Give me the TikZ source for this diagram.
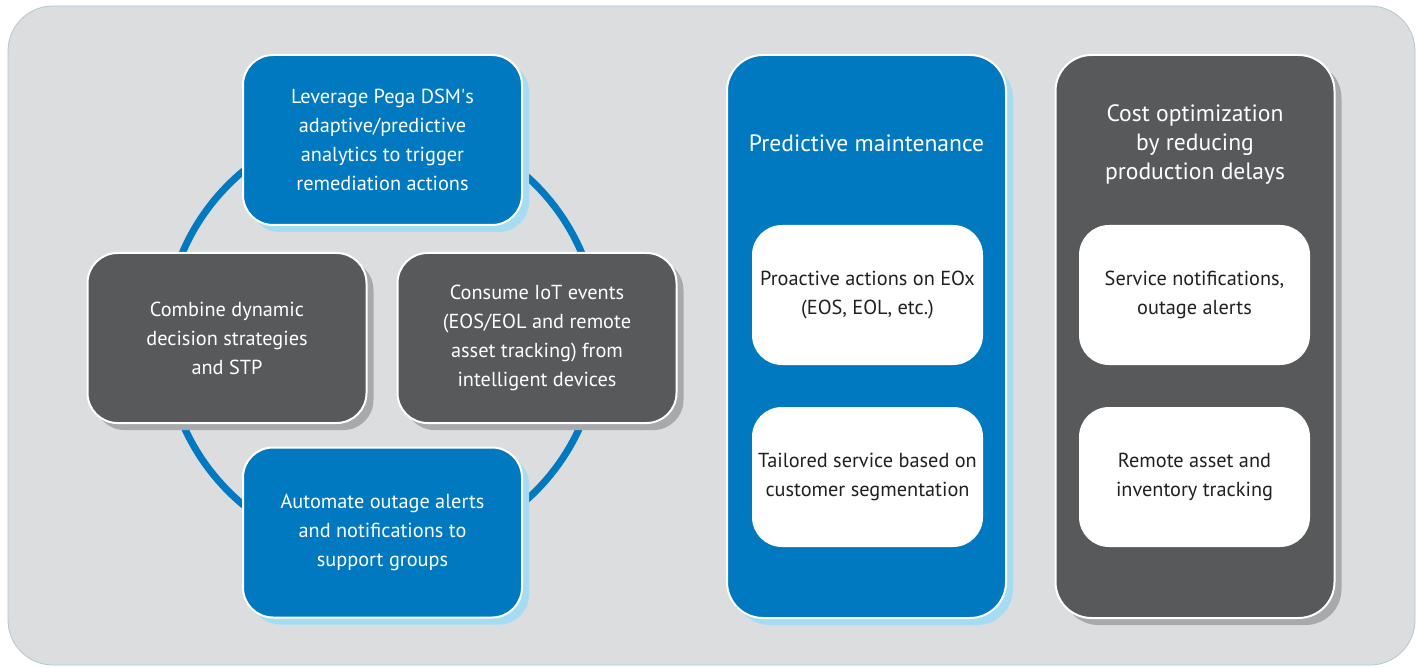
\documentclass[tikz,border=0pt]{standalone}
\usepackage{fontspec}
\setmainfont{PT Sans}
\usetikzlibrary{shadows}
\definecolor{cblue}{HTML}{0079C1}
\definecolor{cgrey}{HTML}{58595B}
\definecolor{cbg}{HTML}{DCDDDE}
\definecolor{cbgline}{HTML}{AFC8D6}
\definecolor{cblueshadow}{HTML}{A6DCF2}
\definecolor{cgreyshadow}{HTML}{A7A9AC}
\definecolor{ctext}{HTML}{231F20}
\tikzset{
  x=1pt, y=-1pt,
  txt/.style={font=\fontsize{20.3}{29}\selectfont, align=center, inner sep=0pt},
  cardbase/.style={draw=white, line width=2pt, rounded corners=30pt, txt, text=white},
  bluecard/.style={cardbase, fill=cblue,
    drop shadow={shadow xshift=7pt, shadow yshift=-7pt, fill=cblueshadow, opacity=1}},
  greycard/.style={cardbase, fill=cgrey,
    drop shadow={shadow xshift=7pt, shadow yshift=-7pt, fill=cgreyshadow, opacity=1}},
  smallcard/.style={minimum width=279pt, minimum height=170pt},
  colcard/.style={minimum width=279pt, minimum height=563pt, rounded corners=36pt},
  whitecard/.style={fill=white, rounded corners=30pt, minimum width=231pt, minimum height=140pt, txt, text=ctext},
  title/.style={font=\fontsize{23.6}{29}\selectfont, align=center, inner sep=0pt, text=white},
  ring/.style={draw=cblue, line width=7pt},
}
\begin{document}
\begin{tikzpicture}
\useasboundingbox (0,0) rectangle (1423,668);
\fill[white] (0,0) rectangle (1423,668);
\draw[fill=cbg, draw=cbgline, line width=0.8pt, rounded corners=45pt] (8,6) rectangle (1415,665);
% ring
\coordinate (rc) at (382,338);
\draw[ring] (rc) circle[radius=217];
% cycle cards
\node[bluecard, smallcard] (lev) at (382.5,140) {Leverage Pega DSM\textquotesingle s\\adaptive/predictive\\analytics to trigger\\remediation actions};
\node[greycard, smallcard] (comb) at (227,338) {Combine dynamic\\decision strategies\\and STP};
\node[greycard, smallcard] (cons) at (537,338) {Consume IoT events\\(EOS/EOL and remote\\asset tracking) from\\intelligent devices};
\node[bluecard, smallcard] (auto) at (382.5,532.5) {Automate outage alerts\\and notifications to\\support groups};
% columns
\node[bluecard, colcard] (pm) at (866.5,336.5) {};
\node[greycard, colcard] (co) at (1195,336.5) {};
\node[title] (pmt) at (866.5,143) {Predictive maintenance};
\node[title] (cot) at (1195,145) {Cost optimization\\by reducing\\production delays};
\node[whitecard] (pm1) at (867.5,295) {Proactive actions on EOx\\(EOS, EOL, etc.)};
\node[whitecard] (pm2) at (867.5,477) {Tailored service based on\\customer segmentation};
\node[whitecard] (co1) at (1194.5,295) {Service notifications,\\outage alerts};
\node[whitecard] (co2) at (1194.5,477) {Remote asset and\\inventory tracking};
\end{tikzpicture}
\end{document}
